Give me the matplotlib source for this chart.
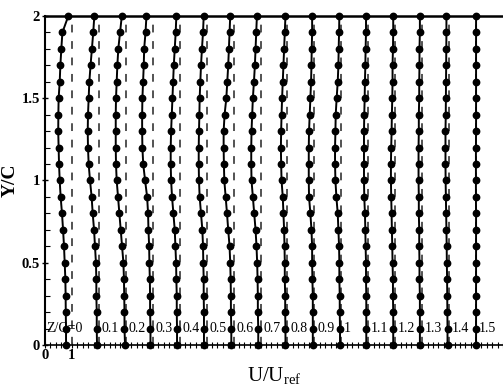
import matplotlib
matplotlib.use('Agg')
import matplotlib.pyplot as plt
from matplotlib.ticker import MultipleLocator, FixedLocator, FuncFormatter

plt.rcParams['font.family'] = ['Liberation Serif', 'DejaVu Serif']
plt.rcParams['mathtext.fontset'] = 'custom'
plt.rcParams['mathtext.rm'] = 'Liberation Serif'

# Y/C stations of each profile (bottom to top)
y_c = [0.0, 0.1, 0.2, 0.3, 0.4, 0.5, 0.6, 0.7, 0.8, 0.9, 1.0,
       1.1, 1.2, 1.3, 1.4, 1.5, 1.6, 1.7, 1.8, 1.9, 2.0]

station_labels = ['Z/C=0', '0.1', '0.2', '0.3', '0.4', '0.5', '0.6', '0.7',
                  '0.8', '0.9', '1', '1.1', '1.2', '1.3', '1.4', '1.5']

# U/Uref per station, bottom to top
u_z00 = [0.78, 0.78, 0.77, 0.765, 0.755, 0.73, 0.705, 0.67, 0.63, 0.58, 0.545,
         0.52, 0.505, 0.49, 0.495, 0.505, 0.545, 0.57, 0.605, 0.645, 0.865]
u_z01 = [0.93, 0.92, 0.92, 0.905, 0.905, 0.89, 0.855, 0.82, 0.77, 0.73, 0.67,
         0.62, 0.595, 0.585, 0.595, 0.62, 0.645, 0.69, 0.74, 0.79, 0.83]
u_z02 = [0.97, 0.95, 0.95, 0.94, 0.93, 0.91, 0.86, 0.81, 0.76, 0.71, 0.66,
         0.635, 0.625, 0.625, 0.625, 0.635, 0.66, 0.685, 0.72, 0.785, 0.85]
u_z03 = [0.915, 0.915, 0.90, 0.90, 0.89, 0.875, 0.865, 0.84, 0.825, 0.79, 0.715,
         0.645, 0.615, 0.605, 0.605, 0.615, 0.64, 0.665, 0.68, 0.73, 0.765]
u_z04 = [0.90, 0.90, 0.89, 0.89, 0.875, 0.865, 0.84, 0.815, 0.765, 0.715, 0.68,
         0.665, 0.665, 0.68, 0.705, 0.73, 0.755, 0.78, 0.815, 0.85, 0.875]
u_z05 = [0.90, 0.90, 0.90, 0.89, 0.89, 0.875, 0.865, 0.84, 0.79, 0.74, 0.715,
         0.705, 0.705, 0.715, 0.73, 0.74, 0.765, 0.79, 0.825, 0.865, 0.89]
u_z06 = [0.915, 0.915, 0.90, 0.90, 0.89, 0.875, 0.85, 0.80, 0.755, 0.705, 0.655,
         0.64, 0.63, 0.63, 0.665, 0.73, 0.765, 0.80, 0.825, 0.85, 0.875]
u_z07 = [0.915, 0.915, 0.90, 0.90, 0.89, 0.875, 0.85, 0.815, 0.765, 0.715, 0.665,
         0.655, 0.655, 0.665, 0.69, 0.715, 0.755, 0.79, 0.815, 0.84, 0.865]
u_z08 = [0.925, 0.925, 0.915, 0.915, 0.90, 0.90, 0.89, 0.875, 0.85, 0.825, 0.78,
         0.765, 0.755, 0.765, 0.78, 0.80, 0.825, 0.85, 0.875, 0.90, 0.925]
u_z09 = [0.94, 0.94, 0.94, 0.94, 0.925, 0.915, 0.915, 0.89, 0.85, 0.80, 0.79,
         0.79, 0.79, 0.80, 0.825, 0.85, 0.875, 0.89, 0.90, 0.915, 0.915]
u_z10 = [0.95, 0.95, 0.94, 0.94, 0.925, 0.925, 0.915, 0.89, 0.865, 0.815, 0.78,
         0.765, 0.765, 0.78, 0.79, 0.825, 0.865, 0.89, 0.90, 0.915, 0.925]
u_z11 = [0.925, 0.925, 0.925, 0.925, 0.915, 0.915, 0.90, 0.89, 0.875, 0.85, 0.84,
         0.84, 0.84, 0.84, 0.85, 0.865, 0.875, 0.89, 0.90, 0.915, 0.915]
u_z12 = [0.925, 0.925, 0.925, 0.915, 0.915, 0.90, 0.89, 0.875, 0.865, 0.85, 0.84,
         0.84, 0.85, 0.865, 0.875, 0.89, 0.90, 0.90, 0.915, 0.925, 0.925]
u_z13 = [0.915, 0.915, 0.915, 0.915, 0.90, 0.90, 0.89, 0.89, 0.875, 0.875, 0.865,
         0.865, 0.865, 0.875, 0.875, 0.89, 0.89, 0.90, 0.90, 0.915, 0.915]
u_z14 = [0.94, 0.94, 0.935, 0.93, 0.925, 0.915, 0.91, 0.90, 0.89, 0.88, 0.87,
         0.865, 0.865, 0.865, 0.875, 0.88, 0.885, 0.89, 0.895, 0.90, 0.90]
u_z15 = [1.0, 1.0, 1.0, 1.0, 1.0, 1.0, 1.0, 1.0, 1.0, 0.995, 0.995,
         0.995, 0.995, 1.0, 1.0, 1.0, 1.0, 1.0, 1.0, 1.0, 1.0]

profiles = [u_z00, u_z01, u_z02, u_z03, u_z04, u_z05, u_z06, u_z07,
            u_z08, u_z09, u_z10, u_z11, u_z12, u_z13, u_z14, u_z15]

fig = plt.figure(figsize=(5.03, 3.92), dpi=100)
ax = fig.add_axes([0.0895, 0.1199, 0.9105, 0.8393])

for k, (lab, u) in enumerate(zip(station_labels, profiles)):
    # reference line U/Uref = 1 for this station, drawn top-down
    ax.plot([k + 1, k + 1], [2, 0], color='#444444', lw=1.3,
            ls=(4.3, (4.3, 4.8)), zorder=2)
    ax.plot([k + v for v in u], y_c, '-o', color='black', lw=1.4, ms=4.6,
            clip_on=False, zorder=3)
    if k == 0:
        ax.text(0.03, 0.1, lab, ha='left', va='center', fontsize=10)
    else:
        ax.text(k + 1.1, 0.1, lab, ha='left', va='center', fontsize=10)

ax.set_xlim(0, 17)
ax.set_ylim(0, 2)
ax.xaxis.set_major_locator(FixedLocator([0, 1]))
ax.xaxis.set_minor_locator(MultipleLocator(0.2))
ax.yaxis.set_major_locator(MultipleLocator(0.5))
ax.yaxis.set_minor_locator(MultipleLocator(0.1))
fmt = FuncFormatter(lambda v, p: '%g' % v)
ax.xaxis.set_major_formatter(fmt)
ax.yaxis.set_major_formatter(fmt)

ax.tick_params(axis='y', which='major', direction='inout', length=5, width=1,
               pad=1, labelsize=10.5)
ax.tick_params(axis='y', which='minor', direction='in', length=3.5, width=0.8)
ax.tick_params(axis='x', which='both', direction='inout', length=4, width=0.8,
               pad=1, labelsize=10.5)
for t in ax.get_xticklabels() + ax.get_yticklabels():
    t.set_fontweight('bold')

ax.spines['right'].set_visible(False)
ax.spines['top'].set_linewidth(1.8)
ax.spines['left'].set_linewidth(1.5)
ax.spines['bottom'].set_linewidth(1.2)

ax.set_ylabel('Y/C', fontsize=14, fontweight='bold', labelpad=2)
ax.set_xlabel(r'U/U$_{\mathrm{ref}}$', fontsize=15, labelpad=2)

fig.savefig('out.png', dpi=100)
